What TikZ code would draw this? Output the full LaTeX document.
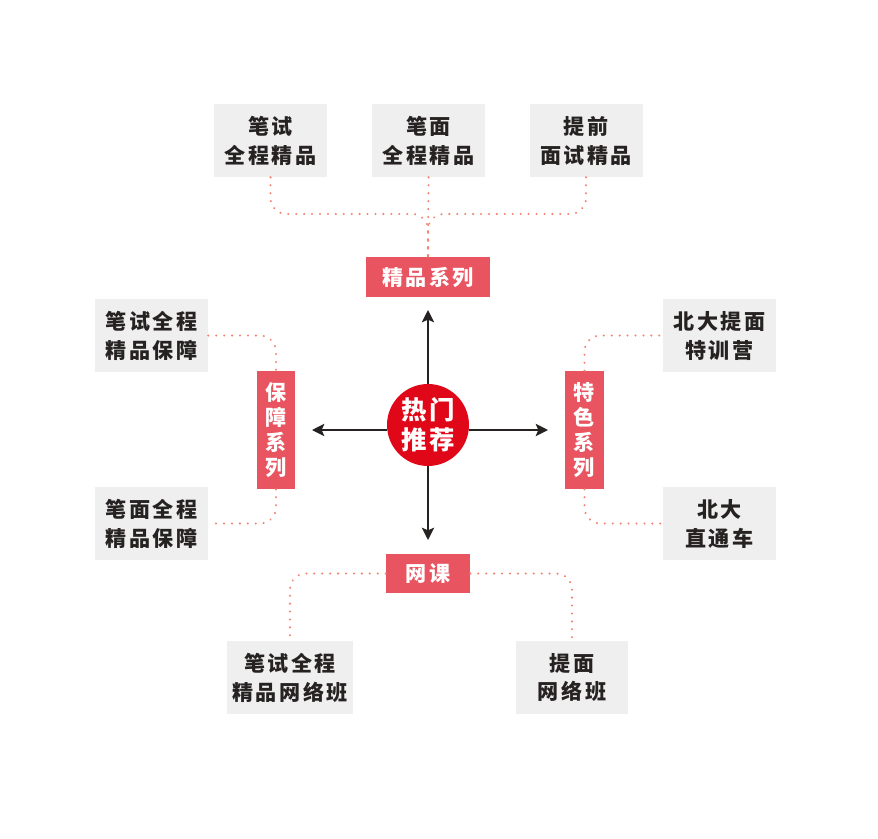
\documentclass[tikz,border=0pt]{standalone}
\usepackage{fontspec}
\newfontfamily\cjk[LetterSpace=12]{Noto Sans CJK SC}
\usetikzlibrary{arrows.meta}

\definecolor{boxgray}{RGB}{239,239,239}
\definecolor{tagred}{RGB}{232,84,96}
\definecolor{hotred}{RGB}{224,8,24}
\definecolor{dotred}{RGB}{240,132,112}
\definecolor{textdark}{RGB}{38,34,34}

\tikzset{
  itembox/.style={fill=boxgray, minimum width=2.26cm, minimum height=1.46cm, inner sep=0pt,
    align=center, text=textdark, font=\cjk\bfseries\fontsize{12}{16.5}\selectfont},
  tagbox/.style={fill=tagred, inner sep=0pt, align=center, text=white,
    font=\cjk\bfseries\fontsize{12}{14.2}\selectfont},
  dotline/.style={dotred, line width=1.3pt, line cap=round, dash pattern=on 0.01pt off 4.5pt, rounded corners=0.32cm},
  bigarrow/.style={-{Stealth[length=7pt,width=7pt,inset=1.5pt]}, line width=1.1pt, textdark}
}

\begin{document}
\begin{tikzpicture}[x=0.02cm, y=-0.02cm]

	% Canvas
	\useasboundingbox (0,0) rectangle (878,838);

	% Centre
	\node[circle, fill=hotred, minimum size=1.64cm, inner sep=0pt, align=center, text=white,
	  font=\cjk\bfseries\fontsize{14.5}{17}\selectfont] (hot) at (428,425) {热门\\推荐};

	% Series tags
	\node[tagbox, minimum width=2.48cm, minimum height=0.8cm] (jing) at (428,277) {精品系列};
	\node[tagbox, minimum width=0.76cm, minimum height=2.36cm] (bao) at (276,430) {保\\障\\系\\列};
	\node[tagbox, minimum width=0.78cm, minimum height=2.36cm] (tese) at (584.5,430) {特\\色\\系\\列};
	\node[tagbox, minimum width=1.68cm, minimum height=0.78cm] (wang) at (428,573.5) {网课};

	% Items - top
	\node[itembox] (t1) at (270.5,140.5) {笔试\\全程精品};
	\node[itembox] (t2) at (428.5,140.5) {笔面\\全程精品};
	\node[itembox] (t3) at (586,140.5) {提前\\面试精品};
	% Items - left
	\node[itembox] (l1) at (151.5,335.5) {笔试全程\\精品保障};
	\node[itembox] (l2) at (151.5,523.5) {笔面全程\\精品保障};
	% Items - right
	\node[itembox] (r1) at (719.5,335.5) {北大提面\\特训营};
	\node[itembox] (r2) at (719.5,523.5) {北大\\直通车};
	% Items - bottom
	\node[itembox, minimum width=2.52cm] (b1) at (290,677.5) {笔试全程\\精品网络班};
	\node[itembox, minimum width=2.24cm] (b2) at (572,677.5) {提面\\网络班};

	% Arrows from centre
	\coordinate (aup) at (428,310);
	\coordinate (adown) at (428,540);
	\coordinate (aleft) at (312,430);
	\coordinate (aright) at (548,430);
	\draw[bigarrow] (hot.north) -- (aup);
	\draw[bigarrow] (hot.south) -- (adown);
	\draw[bigarrow] (hot.west |- aleft) -- (aleft);
	\draw[bigarrow] (hot.east |- aright) -- (aright);

	% Dotted links
	\coordinate (jtop) at (428,214);
	\draw[dotline] (t1.south) |- (jtop) -- (jing.north);
	\draw[dotline] (t3.south) |- (jtop) -- (jing.north);
	\draw[dotline] (t2.south) -- (jing.north);
	\draw[dotline] (l1.east) -| (bao.north);
	\draw[dotline] (bao.south) |- (l2.east);
	\draw[dotline] (tese.north) |- (r1.west);
	\draw[dotline] (tese.south) |- (r2.west);
	\draw[dotline] (wang.west) -| (b1.north);
	\draw[dotline] (wang.east) -| (b2.north);

\end{tikzpicture}
\end{document}
